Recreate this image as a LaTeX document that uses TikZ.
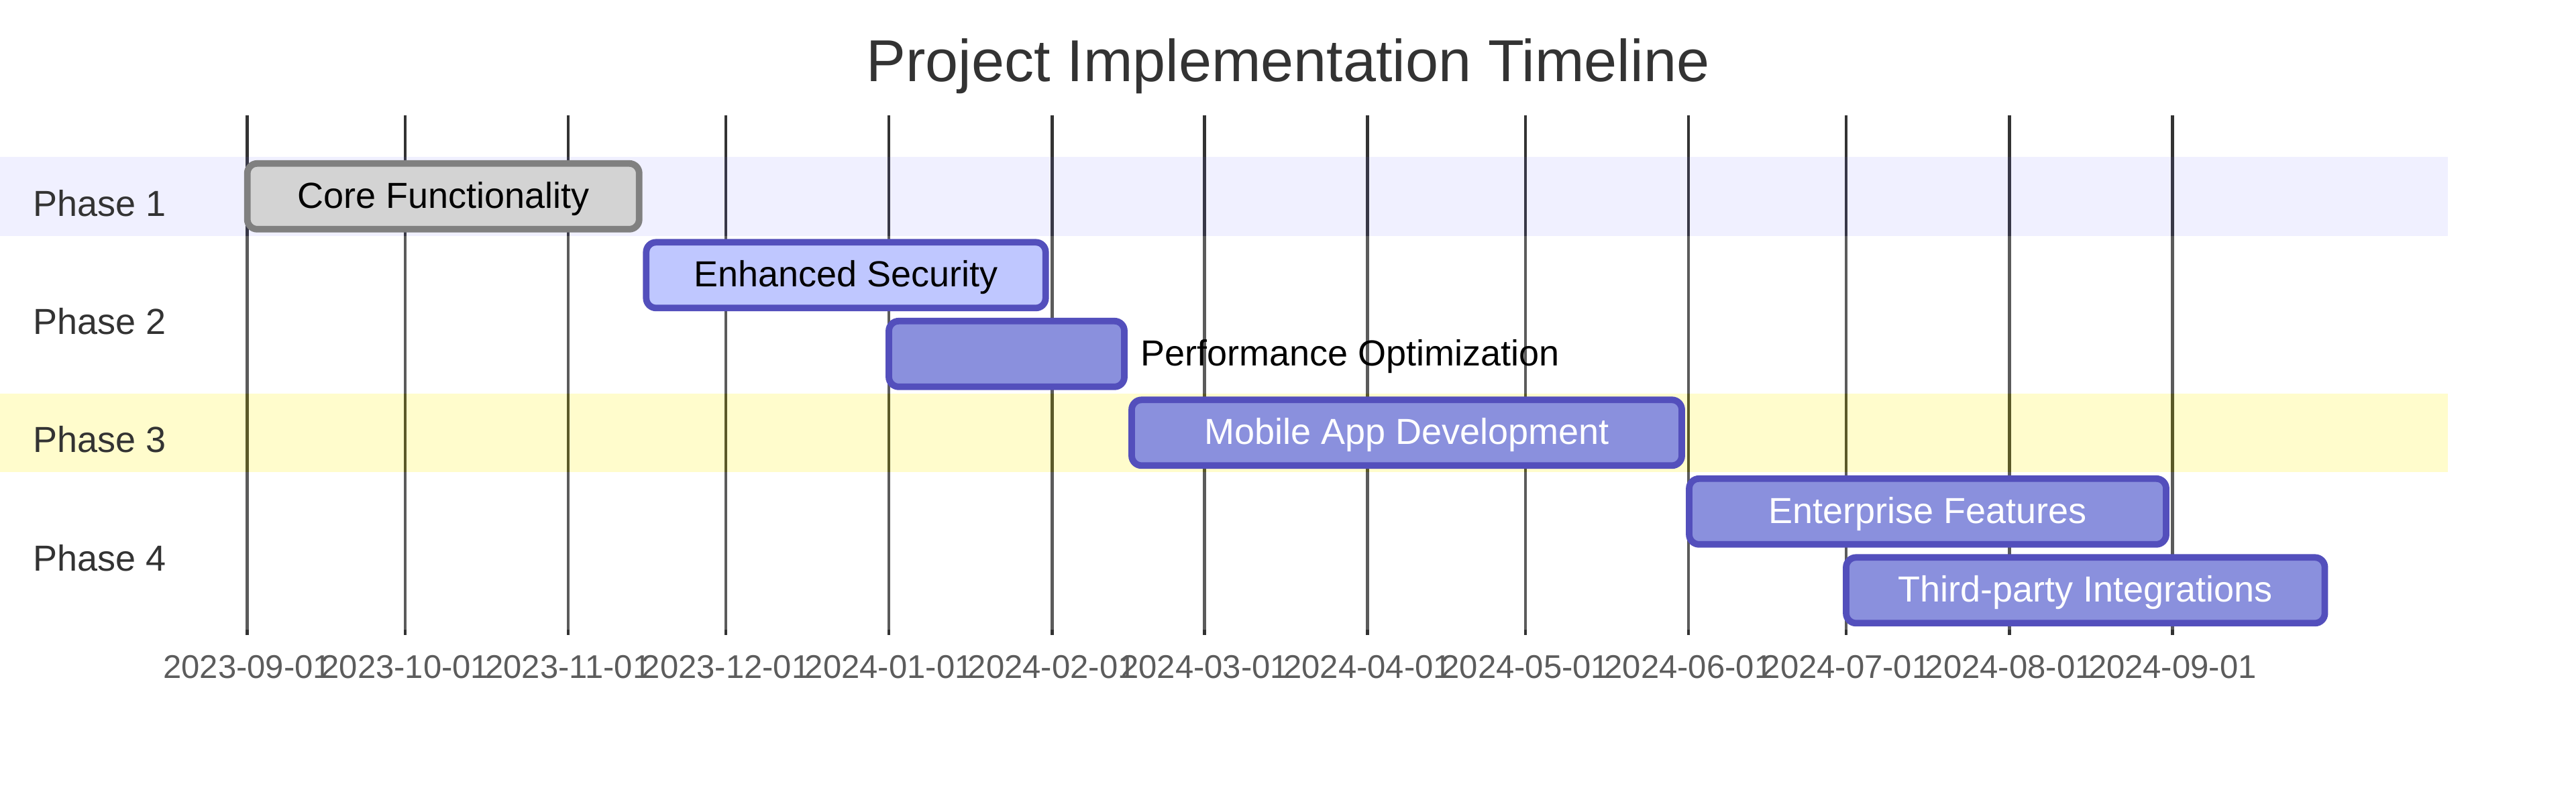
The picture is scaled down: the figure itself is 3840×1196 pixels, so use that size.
\documentclass[tikz,border=0pt]{standalone}
\usepackage{fontspec}
\setmainfont{Liberation Sans}
\definecolor{txt}{HTML}{333333}
\definecolor{ticktxt}{HTML}{5C5C5C}
\definecolor{donefill}{HTML}{D3D3D3}
\definecolor{donestroke}{HTML}{808080}
\definecolor{activefill}{HTML}{BFC7FF}
\definecolor{taskstroke}{HTML}{534FBC}
\definecolor{taskfill}{HTML}{8A90DD}
\definecolor{secA}{RGB}{102,102,255}
\definecolor{secC}{HTML}{FFF400}
\begin{document}
\begin{tikzpicture}[x=1pt,y=-1pt,
  gridline/.style={draw=txt,line width=4.5pt},
  ticklabel/.style={anchor=base,inner sep=0pt,text=ticktxt,font=\fontsize{49}{55}\selectfont},
  phaselabel/.style={anchor=base west,inner sep=0pt,text=txt,font=\fontsize{54}{60}\selectfont},
  tasktext/.style={anchor=base,inner sep=0pt,font=\fontsize{54}{60}\selectfont},
  bar/.style={rectangle,rounded corners=14.7pt,line width=9.8pt,minimum height=98pt,inner sep=0pt,outer sep=0pt,anchor=north west},
  donebar/.style={bar,draw=donestroke,fill=donefill},
  activebar/.style={bar,draw=taskstroke,fill=activefill},
  normalbar/.style={bar,draw=taskstroke,fill=taskfill},
  bandA/.style={fill=secA,fill opacity=0.098},
  bandB/.style={fill=white,fill opacity=0.2},
  bandC/.style={fill=secC,fill opacity=0.2}]
\useasboundingbox[fill=white] (0,0) rectangle (3840,1196);

% title
\node[anchor=base,inner sep=0pt,text=txt,font=\fontsize{88.2}{96}\selectfont] (title) at (1920,121.7) {Project Implementation Timeline};

% grid
\foreach \d/\lab [count=\i] in {0/2023-09-01,30/2023-10-01,61/2023-11-01,91/2023-12-01,122/2024-01-01,153/2024-02-01,182/2024-03-01,213/2024-04-01,243/2024-05-01,274/2024-06-01,304/2024-07-01,335/2024-08-01,366/2024-09-01}{
  \pgfmathsetmacro\gx{368.7+\d*7.8404}
  \coordinate (gt\i) at (\gx,171.7);
  \coordinate (gb\i) at (\gx,947.3);
  \draw[gridline] (gt\i) -- (gb\i);
  \node[ticklabel] (tl\i) at (\gx,1011.7) {\lab};
}

% section bands
\fill[bandA] (0,234) rectangle (3649,351.5);
\fill[bandB] (0,351.5) rectangle (3649,469);
\fill[bandB] (0,469) rectangle (3649,586.5);
\fill[bandC] (0,586.5) rectangle (3649,704);
\fill[bandB] (0,704) rectangle (3649,821.5);
\fill[bandB] (0,821.5) rectangle (3649,939);

% phase labels
\node[phaselabel] (p1) at (49,322.3) {Phase 1};
\node[phaselabel] (p2) at (49,498.5) {Phase 2};
\node[phaselabel] (p3) at (49,674.8) {Phase 3};
\node[phaselabel] (p4) at (49,851) {Phase 4};

% task bars
\node[donebar,minimum width=584.1pt] (core) at (368.7,243.8) {};
\node[activebar,minimum width=595.4pt] (sec) at (963.3,361.3) {};
\node[normalbar,minimum width=351pt] (perf) at (1325,478.8) {};
\node[normalbar,minimum width=820pt] (mob) at (1687,596.3) {};
\node[normalbar,minimum width=711pt] (ent) at (2518,713.8) {};
\node[normalbar,minimum width=713.5pt] (tpi) at (2752,831.3) {};

% task labels
\node[tasktext,text=black] (coret) at (660.75,310) {Core Functionality};
\node[tasktext,text=black] (sect) at (1261,427.5) {Enhanced Security};
\node[tasktext,text=black,anchor=base west] (perft) at (1700.5,545) {Performance Optimization};
\node[tasktext,text=white] (mobt) at (2097,662.5) {Mobile App Development};
\node[tasktext,text=white] (entt) at (2873.5,780) {Enterprise Features};
\node[tasktext,text=white] (tpit) at (3108.75,897.5) {Third-party Integrations};
\end{tikzpicture}
\end{document}
